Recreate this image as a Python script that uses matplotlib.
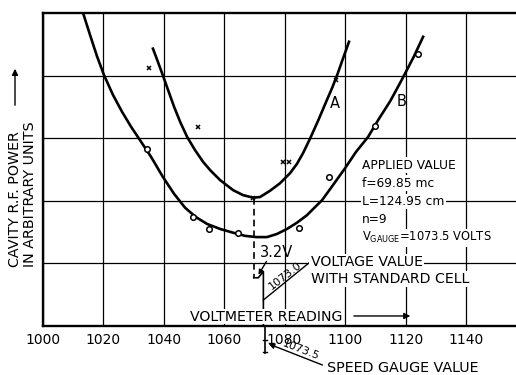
import matplotlib
matplotlib.use('Agg')
import matplotlib.pyplot as plt

# curve A (hand drawn line) and its measured points (x marks)
curve_a_x = [1036.5, 1037.9, 1039.5, 1041.5, 1043.5, 1045.5, 1047.8, 1050.4, 1053.1, 1055.4,
             1058.7, 1063.0, 1066.3, 1069.6, 1071.9, 1075.2, 1078.5, 1081.8, 1084.1, 1086.1,
             1088.4, 1091.1, 1094.0, 1095.7, 1097.4, 1099.3, 1101.3]
curve_a_y = [4.43, 4.25, 4.04, 3.77, 3.50, 3.26, 3.02, 2.81, 2.62, 2.49,
             2.33, 2.17, 2.09, 2.05, 2.06, 2.16, 2.28, 2.44, 2.59, 2.76,
             2.99, 3.28, 3.61, 3.80, 4.01, 4.27, 4.54]
pts_a_x = [1035.2, 1051.4, 1069.6, 1079.5, 1081.5, 1097.0]
pts_a_y = [4.12, 3.18, 2.04, 2.62, 2.62, 3.93]

# curve B (hand drawn line) and its measured points (circles)
curve_b_x = [1013.4, 1015.7, 1018.0, 1020.3, 1023.3, 1026.3, 1029.3, 1032.2, 1035.9, 1039.8,
             1043.5, 1047.1, 1050.7, 1054.4, 1058.7, 1063.0, 1066.9, 1070.6, 1074.2, 1077.5,
             1080.8, 1084.1, 1087.4, 1090.1, 1092.4, 1096.0, 1100.0, 1103.6, 1107.6, 1111.2,
             1114.9, 1117.5, 1119.8, 1122.8, 1125.8]
curve_b_y = [5.00, 4.65, 4.31, 4.01, 3.69, 3.42, 3.18, 2.97, 2.70, 2.38,
             2.11, 1.89, 1.74, 1.63, 1.55, 1.49, 1.44, 1.42, 1.42, 1.47,
             1.55, 1.65, 1.77, 1.90, 2.01, 2.25, 2.52, 2.78, 3.02, 3.31,
             3.59, 3.82, 4.03, 4.31, 4.62]
pts_b_x = [1034.5, 1049.7, 1055.0, 1064.6, 1084.8, 1094.7, 1109.9, 1124.1]
pts_b_y = [2.83, 1.74, 1.55, 1.49, 1.57, 2.38, 3.19, 4.35]

x_ticks = [1000, 1020, 1040, 1060, 1080, 1100, 1120, 1140]
y_grid = [1, 2, 3, 4]

v_min_a = 1069.8     # minimum of curve A
v_std = 1073.0       # voltage value with standard cell
v_gauge = 1073.5     # speed gauge value

info_lines = ['APPLIED VALUE', 'f=69.85 mc', 'L=124.95 cm', 'n=9']
gauge_line = r'V$_{\rm GAUGE}$=1073.5 VOLTS'

plt.rcParams['font.family'] = ['DejaVu Sans']

fig = plt.figure(figsize=(5.16, 3.75), dpi=100)
ax = fig.add_axes([0.0824, 0.1307, 0.9176, 0.8347])
ax.set_xlim(1000, 1156.5)
ax.set_ylim(0, 5)

ax.set_xticks(x_ticks)
ax.set_yticks(y_grid)
ax.set_yticklabels([])
ax.tick_params(axis='both', length=0)
ax.tick_params(axis='x', labelsize=10, pad=5)
ax.grid(True, color='black', lw=0.9)
ax.set_axisbelow(True)
for s in ['left', 'bottom', 'top']:
    ax.spines[s].set_linewidth(1.7)
ax.spines['right'].set_visible(False)

ax.plot(curve_a_x, curve_a_y, color='black', lw=1.9, solid_joinstyle='round', zorder=2)
ax.plot(curve_b_x, curve_b_y, color='black', lw=1.9, solid_joinstyle='round', zorder=2)
ax.plot(pts_a_x, pts_a_y, 'x', color='black', ms=3.5, mew=1.1, zorder=3)
ax.plot(pts_b_x, pts_b_y, 'o', color='black', mfc='white', ms=4, mew=1.1, zorder=3)

ax.text(1096.7, 3.56, 'A', fontsize=10.5, ha='center', va='center')
ax.text(1118.8, 3.59, 'B', fontsize=10.5, ha='center', va='center')

# info block
wb = dict(facecolor='white', edgecolor='none', pad=1.0)
for i, line in enumerate(info_lines):
    ax.text(1105.6, 2.57 - i * 0.29, line, fontsize=8.8, ha='left', va='center', bbox=wb, zorder=4)
ax.text(1105.6, 2.57 - 4 * 0.29, gauge_line, fontsize=8.3, ha='left', va='center', bbox=wb, zorder=4)

# construction lines around the minimum
ax.plot([v_min_a, v_min_a], [2.04, 0.77], color='black', lw=1.2, ls=(0, (4, 2.5)))
ax.plot([v_min_a, 1071.3, v_std, v_std], [0.77, 0.77, 0.87, 0.0], color='black', lw=1.2)
ax.plot([v_gauge, v_gauge], [0.0, -0.43], color='black', lw=1.2, clip_on=False)
for yy in [-0.22, -0.42]:
    ax.plot([v_gauge - 0.7, v_gauge + 0.7], [yy, yy], color='black', lw=1.0, clip_on=False)

ax.text(1071.9, 1.18, '3.2V', fontsize=10.5, ha='left', va='center')
ax.annotate('', xy=(1070.9, 0.78), xytext=(1074.5, 1.07),
            arrowprops=dict(arrowstyle='-|>', color='black', lw=1.0, mutation_scale=7))

ax.plot([v_std, 1088.4], [0.415, 1.02], color='black', lw=1.0)
ax.text(1080.3, 0.80, '1073.0', fontsize=8, rotation=38, ha='center', va='center')
ax.text(1088.6, 1.02, 'VOLTAGE VALUE', fontsize=10.2, ha='left', va='center', bbox=wb, zorder=4)
ax.text(1088.8, 0.75, 'WITH STANDARD CELL', fontsize=10.2, ha='left', va='center', bbox=wb, zorder=4)

ax.text(1048.8, 0.15, 'VOLTMETER READING', fontsize=10.2, ha='left', va='center',
        bbox=dict(facecolor='white', edgecolor='none', pad=0.5), zorder=4)
ax.annotate('', xy=(1122.5, 0.16), xytext=(1102.0, 0.16),
            arrowprops=dict(arrowstyle='-|>', color='black', lw=1.0, mutation_scale=9))

ax.annotate('', xy=(v_gauge + 0.4, -0.27), xytext=(1093.4, -0.64), annotation_clip=False,
            arrowprops=dict(arrowstyle='-|>', color='black', lw=1.0, mutation_scale=8))
ax.text(1085.4, -0.38, '1073.5', fontsize=8, rotation=-21, ha='center', va='center')
ax.text(1094.0, -0.67, 'SPEED GAUGE VALUE', fontsize=10.3, ha='left', va='center', clip_on=False)

# y label with upward arrow
fig.text(15 / 516, 1 - 267 / 375, 'CAVITY R.F. POWER', rotation=90, rotation_mode='anchor',
         ha='left', va='center', fontsize=10.3)
fig.text(30 / 516, 1 - 267 / 375, 'IN ARBITRARY UNITS', rotation=90, rotation_mode='anchor',
         ha='left', va='center', fontsize=10.3)
fig.patches.append(matplotlib.patches.FancyArrowPatch(
    (15 / 516, 1 - 108 / 375), (15 / 516, 1 - 66 / 375), transform=fig.transFigure,
    arrowstyle='-|>', mutation_scale=9, color='black', lw=1.0))

fig.savefig('out.png', dpi=100)
